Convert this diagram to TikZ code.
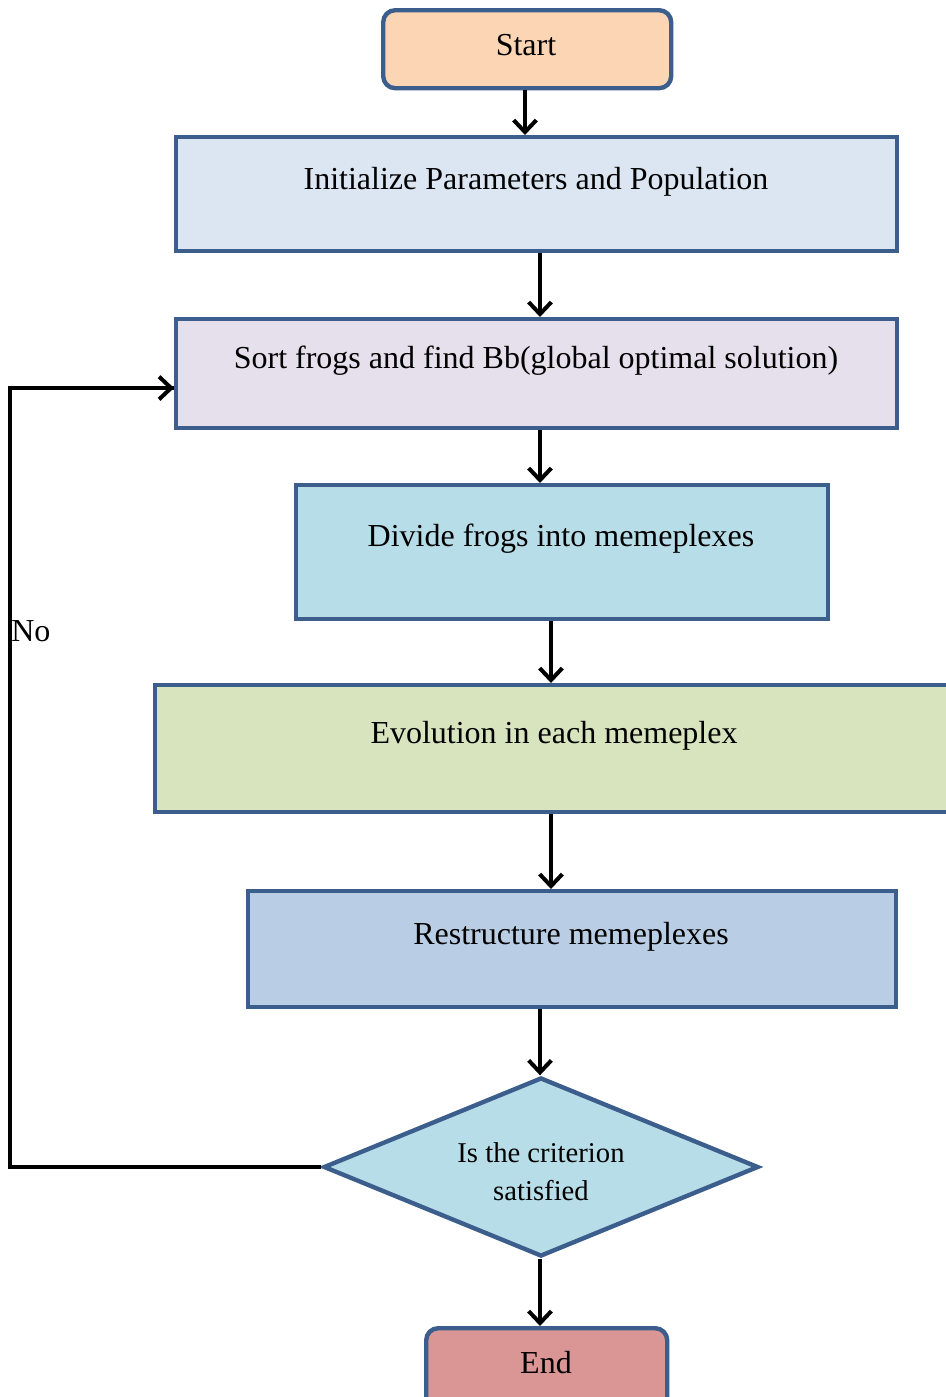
\documentclass[tikz,border=0pt]{standalone}
\usepackage{fontspec}
\setmainfont{Liberation Serif}
\usetikzlibrary{arrows.meta,shapes.geometric}
\definecolor{bord}{RGB}{59,94,140}
\definecolor{cstart}{HTML}{FCD5B4}
\definecolor{cinit}{HTML}{DCE6F2}
\definecolor{csort}{HTML}{E5E0EC}
\definecolor{cdiv}{HTML}{B7DEE8}
\definecolor{cevo}{HTML}{D7E4BD}
\definecolor{crest}{HTML}{B9CDE5}
\definecolor{cend}{HTML}{D99694}
\tikzset{
  box/.style={draw=bord, line width=3.3pt, inner sep=0pt, anchor=north west},
  lbl/.style={anchor=base, inner sep=0pt, font=\fontsize{24pt}{28pt}\selectfont},
  arr/.style={line width=3pt, -{Straight Barb[length=9pt,width=17pt,line width=3pt]}},
  lin/.style={line width=3pt}
}
\begin{document}
\begin{tikzpicture}[x=0.75pt,y=-0.75pt]
\useasboundingbox (0,0) rectangle (946,1397);
\clip (0,0) rectangle (946,1397);
% boxes
\node[box, fill=cstart, rounded corners=9pt, minimum width=288*0.75pt, minimum height=78*0.75pt] (start) at (381,8) {};
\node[box, fill=cinit, minimum width=721*0.75pt, minimum height=114*0.75pt] (init) at (174,135) {};
\node[box, fill=csort, minimum width=721*0.75pt, minimum height=109*0.75pt] (sort) at (174,317) {};
\node[box, fill=cdiv, minimum width=532*0.75pt, minimum height=134*0.75pt] (div) at (294,483) {};
\node[box, fill=cevo, minimum width=830*0.75pt, minimum height=127*0.75pt] (evo) at (153,683) {};
\node[box, fill=crest, minimum width=648*0.75pt, minimum height=116*0.75pt] (rest) at (246,889) {};
\node[draw=bord, line width=3.3pt, fill=cdiv, diamond, aspect=2.43, inner sep=0pt, minimum width=435*0.75pt, minimum height=179*0.75pt] (dec) at (541,1167) {};
\node[box, fill=cend, rounded corners=9pt, minimum width=241*0.75pt, minimum height=90*0.75pt] (end) at (424,1326) {};
% labels
\node[lbl] (tstart) at (526,55) {Start};
\node[lbl] (tinit) at (536,189) {Initialize Parameters and Population};
\node[lbl] (tsort) at (536,368) {Sort frogs and find Bb(global optimal solution)};
\node[lbl] (tdiv) at (561,546) {Divide frogs into memeplexes};
\node[lbl] (tevo) at (554,743) {Evolution in each memeplex};
\node[lbl] (trest) at (571,944) {Restructure memeplexes};
\node[lbl, font=\fontsize{21.5pt}{28pt}\selectfont] (td1) at (541,1162) {Is the criterion};
\node[lbl, font=\fontsize{21.5pt}{28pt}\selectfont] (td2) at (541,1200) {satisfied};
\node[lbl] (tend) at (546,1373) {End};
\node[lbl, anchor=base west] (tno) at (11,641) {No};
% connectors
\draw[arr] (start.south -| 525,0) -- (init.north -| 525,0);
\draw[arr] (init.south -| 540,0) -- (sort.north -| 540,0);
\draw[arr] (sort.south -| 540,0) -- (div.north -| 540,0);
\draw[arr] (div.south -| 551,0) -- (evo.north -| 551,0);
\draw[arr] (evo.south -| 551,0) -- (rest.north -| 551,0);
\draw[arr] (rest.south -| 540,0) -- (dec.north -| 540,0);
\draw[arr] (dec.south -| 540,0) -- (end.north -| 540,0);
\coordinate (lb) at (10,1167);
\coordinate (lt) at (10,388);
\draw[lin] (dec.west) -- (lb) -- (lt) -- (sort.west |- lt);
\draw[arr] (lt) -- (sort.west |- lt);
\end{tikzpicture}
\end{document}
